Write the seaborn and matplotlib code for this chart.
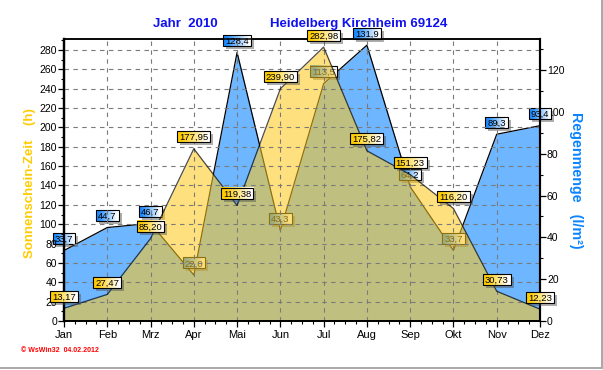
import numpy as np
import pandas as pd
import matplotlib
matplotlib.use("Agg")
import matplotlib.pyplot as plt
import seaborn as sns
from matplotlib.ticker import MultipleLocator
from matplotlib.patches import Rectangle
from matplotlib.lines import Line2D

# ---------------- data ----------------
months = ["Jan", "Feb", "Mrz", "Apr", "Mai", "Jun", "Jul", "Aug", "Sep", "Okt", "Nov", "Dez"]
sunshine = [13.17, 27.47, 85.20, 177.95, 119.38, 239.90, 282.98, 175.82, 151.23, 116.20, 30.73, 12.23]
rain = [33.7, 44.7, 46.7, 22.0, 128.4, 43.3, 113.5, 131.9, 64.2, 33.7, 89.3, 93.4]
sun_ticks = list(range(0, 281, 20))
rain_ticks = list(range(0, 121, 20))
title_left = "Jahr  2010"
title_right = "Heidelberg Kirchheim 69124"
sun_label = "Sonnenschein-Zeit    (h)"
rain_label = "Regenmenge   (l/m²)"
footer = "© WsWin32  04.02.2012"

# ---------------- style ----------------
sns.set_style("white")
plt.rcParams['font.family'] = ['Liberation Sans', 'DejaVu Sans']
plt.rcParams['text.color'] = 'black'
plt.rcParams['axes.edgecolor'] = 'black'
plt.rcParams['xtick.color'] = 'black'
plt.rcParams['ytick.color'] = 'black'

BLUE_FILL = "#6EB6FF"
YEL_FILL = "#FFC81C"
GRID = "#7A7A7A"

W, H = 603, 370
fig = plt.figure(figsize=(W / 100, H / 100), dpi=100)
ax_left_px, ax_right_px, ax_bottom_px, ax_top_px = 64, 540, 321, 39.3
ax = fig.add_axes([ax_left_px / W, 1 - ax_bottom_px / H,
                   (ax_right_px - ax_left_px) / W, (ax_bottom_px - ax_top_px) / H])
ax2 = ax.twinx()

df = pd.DataFrame({"idx": np.arange(len(months)), "month": months,
                   "sun": sunshine, "rain": rain})

# rain (right axis) - drawn below
ax.fill_between(df["idx"], df["rain"], 0, color=BLUE_FILL, lw=0, zorder=1)
sns.lineplot(data=df, x="idx", y="rain", ax=ax, color="black", lw=0.9,
             sort=False, zorder=2)

# sunshine (left axis) - drawn on top, semi transparent
ax2.fill_between(df["idx"], df["sun"], 0, color=YEL_FILL, alpha=0.56, lw=0, zorder=1)
sns.lineplot(data=df, x="idx", y="sun", ax=ax2, color="black", lw=0.9, alpha=0.7,
             sort=False, zorder=2)

# ---------------- axes ----------------
ax.set_xlim(0, len(months) - 1)
ax.set_ylim(0, 134.7)
ax2.set_ylim(0, 291)

ax.set_xticks(df["idx"])
ax.set_xticklabels(months)
ax.xaxis.set_minor_locator(MultipleLocator(0.25))
ax.tick_params(axis='x', which='major', direction='out', length=4, width=0.9,
               labelsize=8, pad=2.5, bottom=True)
ax.tick_params(axis='x', which='minor', direction='out', length=2.2, width=0.8, bottom=True)

ax.yaxis.tick_right()
ax.yaxis.set_label_position('right')
ax.set_yticks(rain_ticks)
ax.yaxis.set_minor_locator(MultipleLocator(10))
ax.tick_params(axis='y', which='major', direction='out', length=4, width=0.9,
               labelsize=7.5, pad=1, right=True, left=False, labelright=True, labelleft=False)
ax.tick_params(axis='y', which='minor', direction='out', length=2.5, width=0.8,
               right=True, left=False)

ax2.yaxis.tick_left()
ax2.yaxis.set_label_position('left')
ax2.set_yticks(sun_ticks)
ax2.yaxis.set_minor_locator(MultipleLocator(10))
ax2.tick_params(axis='y', which='major', direction='out', length=4, width=0.9,
                labelsize=7.5, pad=1, left=True, right=False, labelleft=True, labelright=False)
ax2.tick_params(axis='y', which='minor', direction='out', length=2.5, width=0.8,
                left=True, right=False)

# grid on the top axis, over the fills
ax2.xaxis.set_visible(True)
ax2.tick_params(axis='x', which='both', bottom=False, top=False,
                labelbottom=False, labeltop=False)
ax2.set_axisbelow('line')
ax2.grid(axis='y', which='major', color=GRID, ls=(0, (4, 4)), lw=0.8)
ax2.grid(axis='x', which='major', color=GRID, ls=(0, (4, 4)), lw=0.8)
ax2.grid(axis='both', which='minor', visible=False)

for a in (ax, ax2):
    a.set_xlabel("")
    for side, lw in (("left", 1.6), ("bottom", 1.4), ("right", 1.5), ("top", 1.1)):
        a.spines[side].set_color("black")
        a.spines[side].set_linewidth(lw)

ax2.set_ylabel(sun_label, color="#FFCC00", fontsize=9.5, fontweight='bold', va='center')
ax2.yaxis.set_label_coords((30 - ax_left_px) / (ax_right_px - ax_left_px), 0.49)
ax.set_ylabel(rain_label, color="#0A84FF", fontsize=10.3, fontweight='bold', rotation=-90,
              va='center')
ax.yaxis.set_label_coords((576 - ax_left_px) / (ax_right_px - ax_left_px), 0.5)

# ---------------- titles / footer ----------------
fig.text(185 / W, 1 - 24 / H, title_left, ha='center', va='center', fontsize=9.5,
         fontweight='bold', color="#1010F0")
fig.text(359 / W, 1 - 24 / H, title_right, ha='center', va='center', fontsize=9.5,
         fontweight='bold', color="#1010F0")
fig.text(21 / W, 1 - 351 / H, footer, ha='left', va='center', fontsize=5,
         fontweight='bold', color="#FF0000")

# window-like border
fig.add_artist(Line2D([0, 602 / W], [1 - 367.5 / H] * 2, color="#A8A8A8", lw=1.4,
                      transform=fig.transFigure))
fig.add_artist(Line2D([601.5 / W] * 2, [1 - 367.5 / H, 1], color="#A8A8A8", lw=1.4,
                      transform=fig.transFigure))

# ---------------- value labels ----------------
labels = []
OFF = 12
def add_label(axis, x, y, text, c0):
    t = axis.annotate(text, xy=(x, y), xytext=(0, OFF - 3.4), textcoords='offset pixels',
                      ha='center', va='baseline', fontsize=6.8, color='black',
                      zorder=6, annotation_clip=False)
    labels.append((axis, x, y, t, c0))

for i, v in enumerate(rain):
    add_label(ax, i, v, f"{v:.1f}".replace('.', ','), (30, 140, 255))
for i, v in enumerate(sunshine):
    add_label(ax2, i, v, f"{v:.2f}".replace('.', ','), (255, 204, 0))

fig.canvas.draw()
renderer = fig.canvas.get_renderer()
tt = np.linspace(0, 1, 64)
for axis, x, y, t, c0 in labels:
    bb = t.get_window_extent(renderer)
    px, py = axis.transData.transform((x, y))
    cy = py + OFF
    w = bb.width + 4
    h = 11
    x0, x1 = px - w / 2, px + w / 2
    y0, y1 = cy - h / 2, cy + h / 2
    inv = axis.transData.inverted()
    (dx0, dy0), (dx1, dy1) = inv.transform([(x0, y0), (x1, y1)])
    (sx0, sy0), (sx1, sy1) = inv.transform([(x0 + 3, y0 - 3), (x1 + 3, y1 - 3)])
    axis.add_patch(Rectangle((sx0, sy0), sx1 - sx0, sy1 - sy0, fc=(0.3, 0.3, 0.3),
                             alpha=0.45, lw=0, zorder=4.7, clip_on=False))
    f = np.clip((tt - 0.12) / 0.8, 0, 1)[:, None]
    c = np.array(c0) / 255.0
    grad = (c[None, :] * (1 - f) + np.array([1.0, 1.0, 1.0])[None, :] * f)[None, :, :]
    axis.imshow(grad, extent=(dx0, dx1, dy0, dy1), aspect='auto', zorder=4.8,
                interpolation='bilinear', clip_on=False)
    axis.add_patch(Rectangle((dx0, dy0), dx1 - dx0, dy1 - dy0, fc='none', ec='black',
                             lw=0.8, zorder=4.9, clip_on=False))

ax.set_xlim(0, len(months) - 1)
ax.set_ylim(0, 134.7)
ax2.set_ylim(0, 291)

fig.savefig("out.png", dpi=100)
